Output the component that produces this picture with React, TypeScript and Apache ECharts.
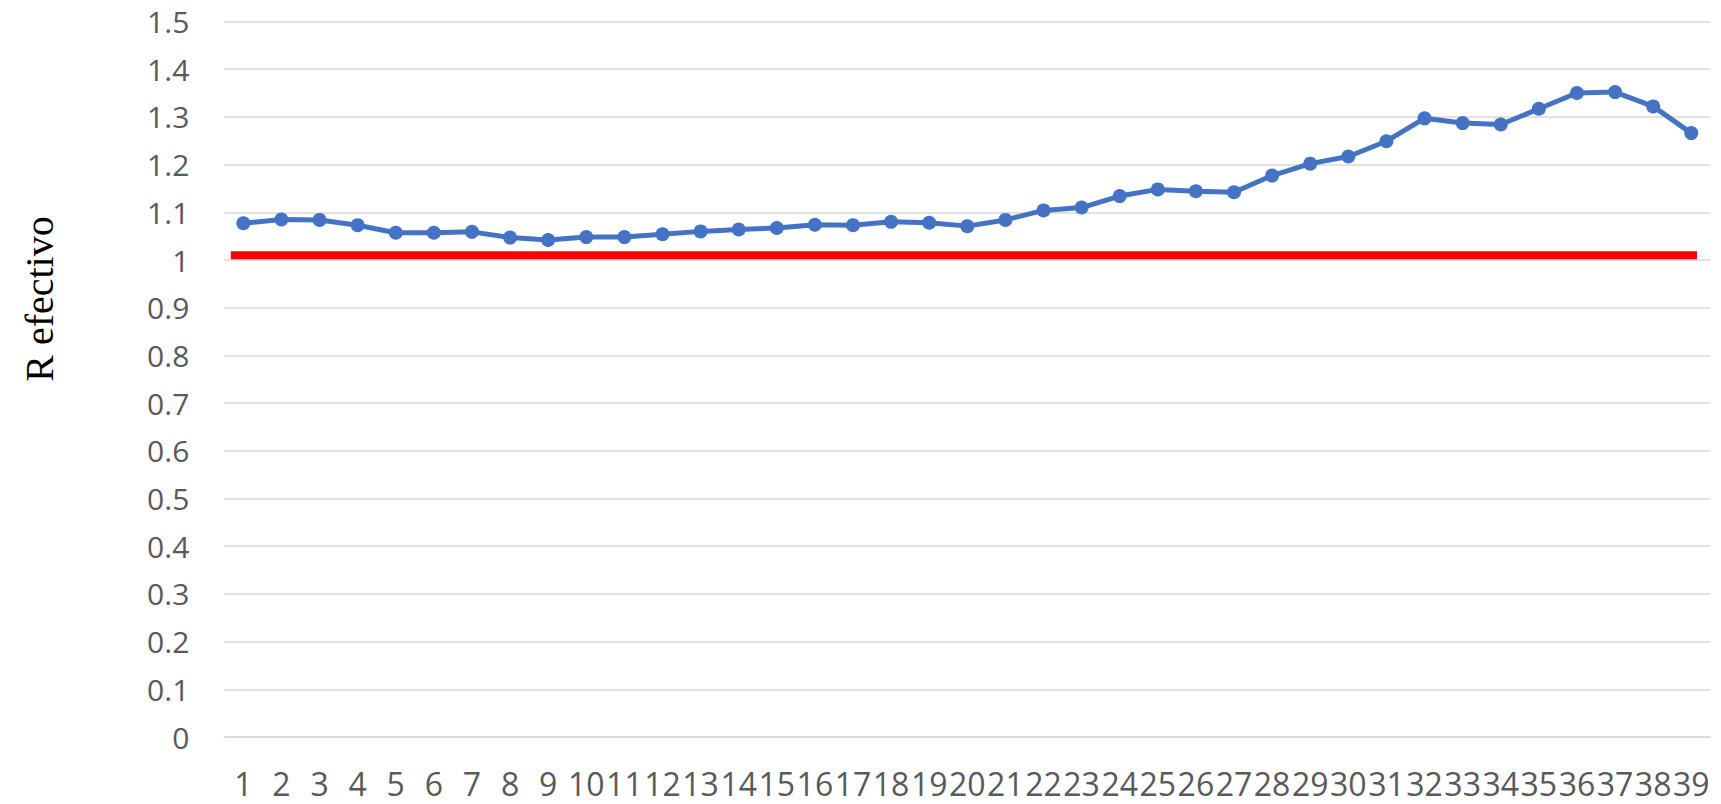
import React, { useEffect, useRef } from "react";
import * as echarts from "echarts";

const categories: string[] = Array.from({ length: 39 }, (_, i) => String(i + 1));

const rEfectivo: number[] = [
  1.077, 1.085, 1.084, 1.073, 1.057, 1.057, 1.059, 1.047, 1.042, 1.048,
  1.048, 1.054, 1.06, 1.064, 1.067, 1.074, 1.073, 1.08, 1.078, 1.071,
  1.084, 1.104, 1.11, 1.134, 1.148, 1.144, 1.142, 1.177, 1.202, 1.217,
  1.249, 1.297, 1.287, 1.284, 1.317, 1.35, 1.352, 1.322, 1.266,
];

const thresholdValue = 1.01;
const thresholdExtent: number[] = [0.67, 39.15];

const yTickInterval = 0.1;
const yMin = 0;
const yMax = 1.5;

export default function App() {
  const ref = useRef<HTMLDivElement>(null);

  useEffect(() => {
    if (!ref.current) return;
    const chart = echarts.init(ref.current, null, { renderer: "svg" });
    const labelFont = "'Open Sans', 'Noto Sans', sans-serif";
    chart.setOption({
      animation: false,
      backgroundColor: "#ffffff",
      grid: { left: 224.3, right: 10.7, top: 21.5, bottom: 67, containLabel: false },
      xAxis: [
        {
          type: "category",
          data: categories,
          boundaryGap: true,
          axisLine: { show: true, lineStyle: { color: "#d9d9d9", width: 1.5 } },
          axisTick: { show: false },
          axisLabel: {
            interval: 0,
            color: "#595959",
            fontFamily: labelFont,
            fontSize: 32,
            lineHeight: 32,
            margin: 30,
          },
          splitLine: { show: false },
        },
        {
          type: "value",
          min: 0.5,
          max: 39.5,
          show: false,
          position: "bottom",
        },
      ],
      yAxis: {
        type: "value",
        min: yMin,
        max: yMax,
        interval: yTickInterval,
        axisLine: { show: false },
        axisTick: { show: false },
        axisLabel: {
          color: "#595959",
          fontFamily: labelFont,
          fontSize: 30,
          margin: 35,
          formatter: (v: number) => String(Math.round(v * 10) / 10),
        },
        splitLine: { show: true, lineStyle: { color: "#d9d9d9", width: 1.5 } },
      },
      graphic: [
        {
          type: "text",
          x: 39,
          y: 299,
          rotation: Math.PI / 2,
          style: {
            text: "R efectivo",
            fontFamily: "'Liberation Serif', 'Times New Roman', serif",
            fontSize: 40,
            fill: "#000000",
            align: "center",
            verticalAlign: "middle",
          },
        },
      ],
      series: [
        {
          name: "Umbral",
          type: "line",
          xAxisIndex: 1,
          data: thresholdExtent.map((x) => [x, thresholdValue]),
          showSymbol: false,
          symbol: "none",
          lineStyle: { color: "#ff0000", width: 8, cap: "butt" },
          z: 2,
        },
        {
          name: "R efectivo",
          type: "line",
          xAxisIndex: 0,
          data: rEfectivo,
          symbol: "circle",
          symbolSize: 14,
          itemStyle: { color: "#4472C4" },
          lineStyle: { color: "#4472C4", width: 5 },
          z: 3,
        },
      ],
    });
    return () => chart.dispose();
  }, []);

  return (
    <div
      ref={ref}
      style={{ position: "fixed", left: 0, top: 0, width: 1721, height: 804, background: "#fff" }}
    />
  );
}
